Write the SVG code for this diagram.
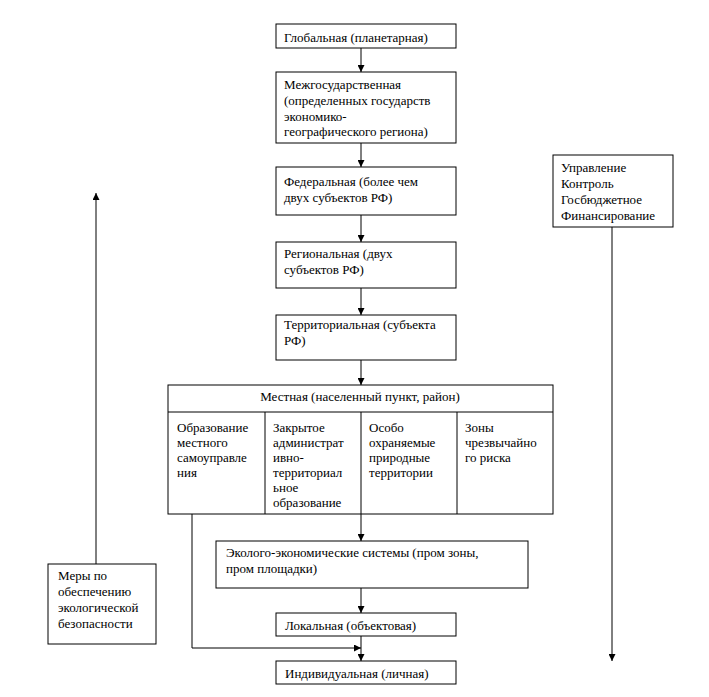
<svg xmlns="http://www.w3.org/2000/svg" width="709" height="697" viewBox="0 0 709 697">
<style>
.b{fill:#fff;stroke:#000;stroke-width:1}
.t{font-size:13px;fill:#000}
.c{stroke:#000;stroke-width:1;fill:none}
</style>
<defs>
<marker id="a" viewBox="0 0 10 10" refX="10" refY="5" markerWidth="7" markerHeight="7" markerUnits="userSpaceOnUse" orient="auto">
<path d="M0,0 L10,5 L0,10 Z" fill="#000"/>
</marker>
</defs>
<rect width="709" height="697" fill="#fff"/>
<g id="connectors">
<line class="c" x1="361" y1="48" x2="361" y2="72" marker-end="url(#a)"/>
<line class="c" x1="361" y1="143" x2="361" y2="167" marker-end="url(#a)"/>
<line class="c" x1="361" y1="215" x2="361" y2="242" marker-end="url(#a)"/>
<line class="c" x1="361" y1="288" x2="361" y2="315" marker-end="url(#a)"/>
<line class="c" x1="361" y1="360" x2="361" y2="385" marker-end="url(#a)"/>
<line class="c" x1="361" y1="514" x2="361" y2="541" marker-end="url(#a)"/>
<line class="c" x1="361" y1="588" x2="361" y2="613" marker-end="url(#a)"/>
<line class="c" x1="361" y1="636" x2="361" y2="661" marker-end="url(#a)"/>
<polyline class="c" points="192,514 192,648 361,648" marker-end="url(#a)"/>
<line class="c" x1="96" y1="564" x2="96" y2="193" marker-end="url(#a)"/>
<line class="c" x1="612" y1="227" x2="612" y2="661" marker-end="url(#a)"/>
</g>
<g font-family="Liberation Serif, DejaVu Serif, serif">
<g id="n1"><rect class="b" x="276" y="24" width="180" height="24"/><text class="t" x="284" y="42">Глобальная (планетарная)</text></g>
<g id="n2"><rect class="b" x="276" y="72" width="180" height="71"/>
<text class="t" x="284" y="89">Межгосударственная</text>
<text class="t" x="284" y="105">(определенных государств</text>
<text class="t" x="284" y="121">экономико-</text>
<text class="t" x="284" y="136">географического региона)</text></g>
<g id="n3"><rect class="b" x="276" y="167" width="180" height="48"/>
<text class="t" x="284" y="186">Федеральная (более чем</text>
<text class="t" x="284" y="202">двух субъектов РФ)</text></g>
<g id="n4"><rect class="b" x="276" y="242" width="180" height="46"/>
<text class="t" x="284" y="258">Региональная (двух</text>
<text class="t" x="284" y="274">субъектов РФ)</text></g>
<g id="n5"><rect class="b" x="276" y="315" width="180" height="45"/>
<text class="t" x="284" y="329">Территориальная (субъекта</text>
<text class="t" x="284" y="345">РФ)</text></g>
<g id="n6"><rect class="b" x="168" y="385" width="385" height="129"/>
<line class="c" x1="168" y1="412" x2="553" y2="412"/>
<line class="c" x1="265" y1="412" x2="265" y2="514"/>
<line class="c" x1="361" y1="412" x2="361" y2="514"/>
<line class="c" x1="457" y1="412" x2="457" y2="514"/>
<text class="t" x="360" y="401" text-anchor="middle">Местная (населенный пункт, район)</text>
<text class="t" x="177" y="432">Образование</text>
<text class="t" x="177" y="447">местного</text>
<text class="t" x="177" y="462">самоуправле</text>
<text class="t" x="177" y="477">ния</text>
<text class="t" x="273" y="432">Закрытое</text>
<text class="t" x="273" y="447">администрат</text>
<text class="t" x="273" y="462">ивно-</text>
<text class="t" x="273" y="477">территориал</text>
<text class="t" x="273" y="492">ьное</text>
<text class="t" x="273" y="507">образование</text>
<text class="t" x="369" y="432">Особо</text>
<text class="t" x="369" y="447">охраняемые</text>
<text class="t" x="369" y="462">природные</text>
<text class="t" x="369" y="477">территории</text>
<text class="t" x="465" y="432">Зоны</text>
<text class="t" x="465" y="447">чрезвычайно</text>
<text class="t" x="465" y="462">го риска</text></g>
<g id="n7"><rect class="b" x="216" y="541" width="312" height="47"/>
<text class="t" x="226" y="557">Эколого-экономические системы (пром зоны,</text>
<text class="t" x="226" y="573">пром площадки)</text></g>
<g id="n8"><rect class="b" x="276" y="613" width="180" height="23"/>
<text class="t" x="285" y="630">Локальная (объектовая)</text></g>
<g id="n9"><rect class="b" x="276" y="661" width="180" height="23"/>
<text class="t" x="285" y="678">Индивидуальная (личная)</text></g>
<g id="n10"><rect class="b" x="48" y="564" width="108" height="80"/>
<text class="t" x="58" y="580">Меры по</text>
<text class="t" x="58" y="596">обеспечению</text>
<text class="t" x="58" y="612">экологической</text>
<text class="t" x="58" y="628">безопасности</text></g>
<g id="n11"><rect class="b" x="553" y="155" width="120" height="72"/>
<text class="t" x="561" y="172">Управление</text>
<text class="t" x="561" y="188">Контроль</text>
<text class="t" x="561" y="204">Госбюджетное</text>
<text class="t" x="561" y="220">Финансирование</text></g>
</g>
</svg>
